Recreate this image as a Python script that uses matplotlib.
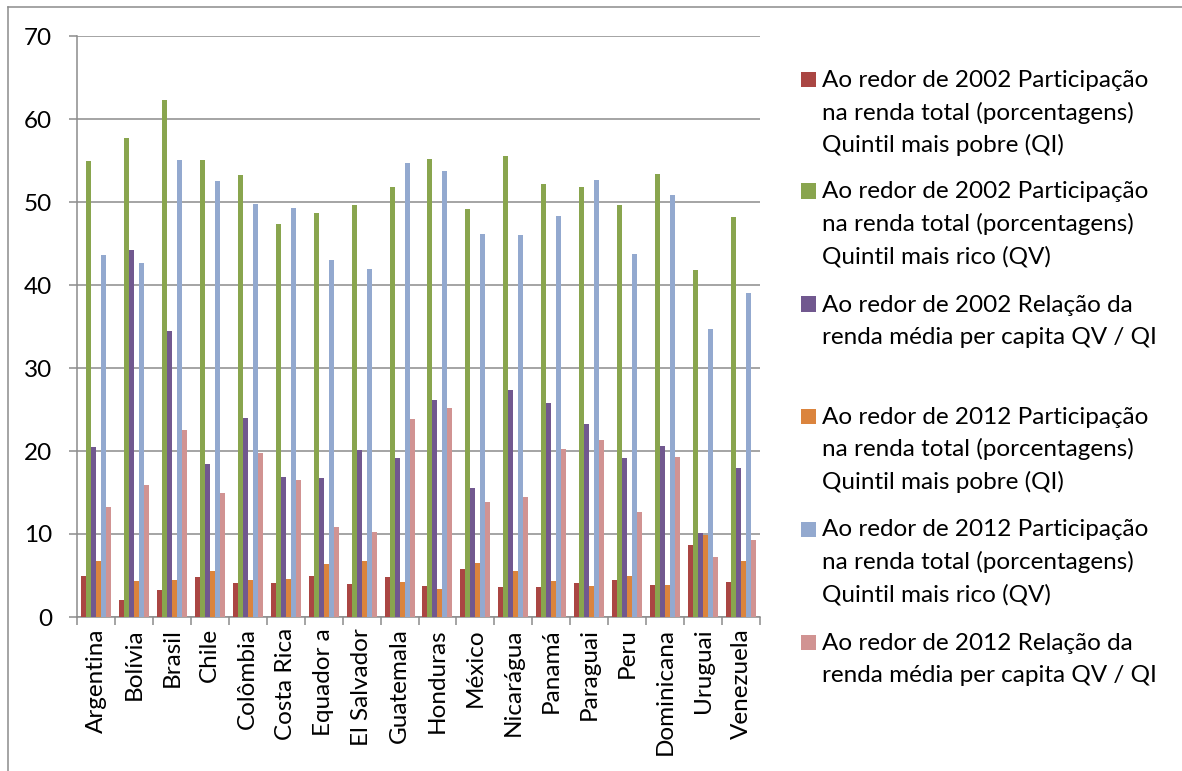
import matplotlib
matplotlib.use("Agg")
import matplotlib.pyplot as plt
from matplotlib.patches import Rectangle
from matplotlib.lines import Line2D
import numpy as np

plt.rcParams["font.family"] = ["Lato", "DejaVu Sans"]

countries = ["Argentina", "Bolívia", "Brasil", "Chile", "Colômbia", "Costa Rica",
             "Equador a", "El Salvador", "Guatemala", "Honduras", "México",
             "Nicarágua", "Panamá", "Paraguai", "Peru", "Dominicana", "Uruguai",
             "Venezuela"]

qi_2002 = [5.0, 2.1, 3.3, 4.8, 4.1, 4.1, 5.0, 4.0, 4.8, 3.7, 5.8, 3.6, 3.6, 4.1,
           4.4, 3.8, 8.7, 4.2]
qv_2002 = [55.0, 57.7, 62.3, 55.1, 53.3, 47.3, 48.7, 49.6, 51.8, 55.2, 49.1, 55.5,
           52.2, 51.8, 49.6, 53.4, 41.8, 48.2]
ratio_2002 = [20.5, 44.2, 34.4, 18.4, 24.0, 16.9, 16.8, 20.1, 19.2, 26.2, 15.5,
              27.3, 25.8, 23.2, 19.2, 20.6, 10.15, 18.0]
qi_2012 = [6.8, 4.3, 4.5, 5.5, 4.5, 4.6, 6.35, 6.8, 4.2, 3.4, 6.5, 5.5, 4.3, 3.7,
           4.9, 3.8, 9.9, 6.7]
qv_2012 = [43.6, 42.6, 55.1, 52.5, 49.7, 49.3, 43.0, 41.9, 54.7, 53.7, 46.2, 46.0,
           48.3, 52.7, 43.7, 50.8, 34.7, 39.0]
ratio_2012 = [13.2, 15.9, 22.5, 14.9, 19.7, 16.5, 10.8, 10.25, 23.8, 25.2, 13.9,
              14.4, 20.3, 21.3, 12.7, 19.3, 7.2, 9.3]

series_labels = [
    "Ao redor de 2002 Participação\nna renda total (porcentagens)\nQuintil mais pobre (QI)",
    "Ao redor de 2002 Participação\nna renda total (porcentagens)\nQuintil mais rico (QV)",
    "Ao redor de 2002 Relação da\nrenda média per capita QV / QI",
    "Ao redor de 2012 Participação\nna renda total (porcentagens)\nQuintil mais pobre (QI)",
    "Ao redor de 2012 Participação\nna renda total (porcentagens)\nQuintil mais rico (QV)",
    "Ao redor de 2012 Relação da\nrenda média per capita QV / QI",
]
series_values = [qi_2002, qv_2002, ratio_2002, qi_2012, qv_2012, ratio_2012]
colors = ["#AA4643", "#89A54E", "#71588F", "#DB843D", "#93A9CF", "#D19392"]

yticks = [0, 10, 20, 30, 40, 50, 60, 70]

W, H = 1182, 771
FS = 17.5
fig = plt.figure(figsize=(W / 100, H / 100), dpi=100)

# outer chart-area frame (top and left edges visible)
fig.add_artist(Line2D([8 / W, 8 / W], [0, 1 - 7 / H], transform=fig.transFigure,
                      color="#8c8c8c", lw=1.1))
fig.add_artist(Line2D([8 / W, 1], [1 - 7 / H, 1 - 7 / H], transform=fig.transFigure,
                      color="#8c8c8c", lw=1.1))

ax_l, ax_r, ax_t, ax_b = 77, 760, 36, 617
ax = fig.add_axes([ax_l / W, 1 - ax_b / H, (ax_r - ax_l) / W, (ax_b - ax_t) / H])

n = len(countries)
x = np.arange(n)
bw = 0.132
for i, (vals, c) in enumerate(zip(series_values, colors)):
    ax.bar(x + (i - 2.5) * bw, vals, width=bw, color=c, edgecolor="none", zorder=3)

ax.set_xlim(-0.5, n - 0.5)
ax.set_ylim(0, 70)
ax.set_yticks(yticks)
ax.set_yticklabels([str(v) for v in yticks])
ax.grid(axis="y", color="#8c8c8c", lw=1.1, zorder=0)
ax.set_axisbelow(True)

for s in ["top", "right"]:
    ax.spines[s].set_visible(False)
for s in ["left", "bottom"]:
    ax.spines[s].set_color("#8c8c8c")
    ax.spines[s].set_linewidth(1.1)

ax.tick_params(axis="y", length=6, width=1.1, color="#8c8c8c", pad=12,
               labelsize=FS, labelcolor="black")
ax.set_xticks(x)
ax.set_xticklabels(countries, rotation=90, fontsize=FS)
ax.tick_params(axis="x", which="major", length=0, pad=8)
ax.set_xticks(np.arange(-0.5, n, 1.0), minor=True)
ax.tick_params(axis="x", which="minor", length=6, width=1.1, color="#8c8c8c",
               direction="out")

# legend drawn entry by entry, patch aligned with the first text line
entry_tops = [72, 183.5, 296.5, 409, 521.5, 635]
line_pitch = 32.5
for top, lab, c in zip(entry_tops, series_labels, colors):
    fig.add_artist(Rectangle((801 / W, 1 - (top + 15) / H), 15 / W, 15 / H,
                             transform=fig.transFigure, facecolor=c,
                             edgecolor="none"))
    for k, line in enumerate(lab.split("\n")):
        fig.text(822 / W, 1 - (top + 15 + k * line_pitch) / H, line,
                 fontsize=FS, va="baseline", ha="left", color="black")

fig.savefig("out.png", dpi=100)
